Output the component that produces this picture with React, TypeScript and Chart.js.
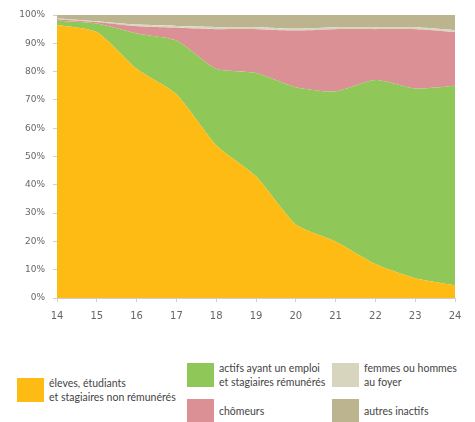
import React, { useEffect, useRef } from "react";
import { Chart, registerables } from "chart.js";

Chart.register(...registerables);

const ages = ["14", "15", "16", "17", "18", "19", "20", "21", "22", "23", "24"];
const eleves = [96.5, 94, 81, 72, 54, 43, 26, 20, 12, 7, 4.5];
const actifs = [1.5, 3, 12.5, 19, 27, 36.5, 48.5, 53, 65, 67, 70.5];
const chomeurs = [0.5, 0.5, 2.5, 4.5, 14, 15.5, 20, 22, 18, 21, 19];
const foyer = [0.3, 0.3, 0.6, 0.6, 0.7, 0.7, 0.7, 0.7, 0.7, 0.7, 0.7];
const autres = [1.2, 2.2, 3.4, 3.9, 4.3, 4.3, 4.8, 4.3, 4.3, 4.3, 5.3];

const seriesNames = [
  "éleves, étudiants et stagiaires non rémunérés",
  "actifs ayant un emploi et stagiaires rémunérés",
  "chômeurs",
  "femmes ou hommes au foyer",
  "autres inactifs",
];
const colors = ["#FDBB14", "#8FC858", "#DB9095", "#D8D5BE", "#BBB48F"];

const legendFont = "Lato, 'Open Sans', sans-serif";

function Swatch({ color, left, top }: { color: string; left: number; top: number }) {
  return (
    <div
      style={{ position: "absolute", left, top, width: 27, height: 24, background: color }}
    />
  );
}

function Label({ left, top, lines }: { left: number; top: number; lines: string[] }) {
  return (
    <div
      style={{
        position: "absolute",
        left,
        top,
        fontFamily: legendFont,
        fontSize: 10.5,
        lineHeight: "14px",
        color: "#444",
        whiteSpace: "nowrap",
      }}
    >
      {lines.map((l, i) => (
        <div key={i}>{l}</div>
      ))}
    </div>
  );
}

export default function App() {
  const ref = useRef<HTMLCanvasElement | null>(null);

  useEffect(() => {
    if (!ref.current) return;
    const data = [eleves, actifs, chomeurs, foyer, autres];
    const chart = new Chart(ref.current, {
      type: "line",
      data: {
        labels: ages,
        datasets: data.map((d, i) => ({
          label: seriesNames[i],
          data: d,
          backgroundColor: colors[i],
          borderColor: colors[i],
          borderWidth: 0,
          pointRadius: 0,
          tension: 0.2,
          fill: i === 0 ? "origin" : "-1",
        })),
      },
      options: {
        animation: false,
        responsive: false,
        layout: { padding: { top: 15, right: 20, left: 0, bottom: 0 } },
        plugins: { legend: { display: false }, tooltip: { enabled: false } },
        scales: {
          x: {
            offset: false,
            grid: { drawOnChartArea: false, drawTicks: true, tickLength: 4, color: "#cfcfcf" },
            border: { display: true, color: "#cfcfcf" },
            ticks: {
              padding: 8,
              color: "#666",
              font: { family: "'DejaVu Sans'", size: 10 },
              maxRotation: 0,
            },
            afterFit: (s: any) => {
              s.height = 42;
            },
          },
          y: {
            stacked: true,
            min: 0,
            max: 100,
            grid: { drawOnChartArea: false, drawTicks: true, tickLength: 4, color: "#cfcfcf" },
            border: { display: true, color: "#cfcfcf" },
            ticks: {
              stepSize: 10,
              padding: 8,
              color: "#666",
              font: { family: "'DejaVu Sans'", size: 9 },
              callback: (v: any) => v + "%",
            },
            afterFit: (s: any) => {
              s.width = 57;
            },
          },
        },
      },
    });
    return () => chart.destroy();
  }, []);

  return (
    <div
      style={{
        position: "fixed",
        left: 0,
        top: 0,
        width: 475,
        height: 422,
        background: "#fff",
        overflow: "hidden",
      }}
    >
      <canvas ref={ref} width={475} height={340} style={{ position: "absolute", left: 0, top: 0 }} />
      <Swatch color={colors[0]} left={17} top={378} />
      <Label left={49} top={376} lines={["éleves, étudiants", "et stagiaires non rémunérés"]} />
      <Swatch color={colors[1]} left={187} top={363} />
      <Label left={219} top={361} lines={["actifs ayant un emploi", "et stagiaires rémunérés"]} />
      <Swatch color={colors[2]} left={187} top={399} />
      <Label left={219} top={404} lines={["chômeurs"]} />
      <Swatch color={colors[3]} left={332} top={363} />
      <Label left={364} top={361} lines={["femmes ou hommes", "au foyer"]} />
      <Swatch color={colors[4]} left={332} top={399} />
      <Label left={364} top={404} lines={["autres inactifs"]} />
    </div>
  );
}
